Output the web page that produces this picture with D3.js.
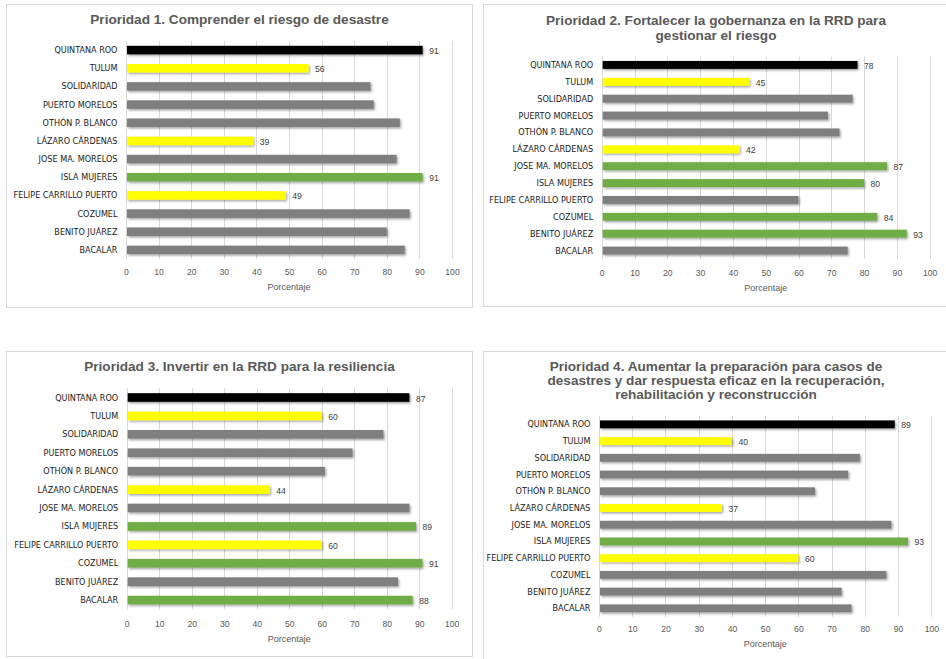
<!DOCTYPE html>
<html lang="es">
<head>
<meta charset="utf-8">
<title>Prioridades del Marco de Sendai – Quintana Roo</title>
<script src="https://cdn.jsdelivr.net/npm/d3@7"></script>
<style>
  html, body { margin: 0; padding: 0; background: #ffffff; }
  svg { display: block; }
  .titulo { font-family: "Liberation Sans", Arial, sans-serif; font-weight: bold; fill: #595959; }
  .cat { font-family: "Liberation Sans Narrow", "DejaVu Sans Condensed", "Liberation Sans", sans-serif; fill: #1a1a1a; }
  .tick-lbl { font-family: "Liberation Sans", Arial, sans-serif; fill: #595959; }
  .valor { font-family: "Liberation Sans", Arial, sans-serif; fill: #404040; }
</style>
</head>
<body>
<script>
// Municipios (orden de arriba hacia abajo)
const municipios = [
  "QUINTANA ROO", "TULUM", "SOLIDARIDAD", "PUERTO MORELOS", "OTHÓN P. BLANCO",
  "LÁZARO CÁRDENAS", "JOSE MA. MORELOS", "ISLA MUJERES", "FELIPE CARRILLO PUERTO",
  "COZUMEL", "BENITO JUÁREZ", "BACALAR"
];

// Marcas del eje de porcentaje
const marcasPorcentaje = [0, 10, 20, 30, 40, 50, 60, 70, 80, 90, 100];
const tituloEje = "Porcentaje";

// Clasificación: E = estatal, B = bajo, M = medio, A = sobre el promedio estatal
const titulo1 = ["Prioridad 1. Comprender el riesgo de desastre"];
const valores1 = [91, 56, 75, 76, 84, 39, 83, 91, 49, 87, 80, 85.5];
const nivel1   = ["E", "B", "M", "M", "M", "B", "M", "A", "B", "M", "M", "M"];

const titulo2 = ["Prioridad 2. Fortalecer la gobernanza en la RRD para", "gestionar el riesgo"];
const valores2 = [78, 45, 76.5, 69, 72.5, 42, 87, 80, 60, 84, 93, 75];
const nivel2   = ["E", "B", "M", "M", "M", "B", "A", "A", "M", "A", "A", "M"];

const titulo3 = ["Prioridad 3. Invertir en la RRD para la resiliencia"];
const valores3 = [87, 60, 79, 69.5, 61, 44, 87, 89, 60, 91, 83.5, 88];
const nivel3   = ["E", "B", "M", "M", "M", "B", "M", "A", "B", "A", "M", "A"];

const titulo4 = ["Prioridad 4. Aumentar la preparación para casos de",
                 "desastres y dar respuesta eficaz en la recuperación,",
                 "rehabilitación y reconstrucción"];
const valores4 = [89, 40, 78.5, 75, 65, 37, 88, 93, 60, 86.5, 73, 76];
const nivel4   = ["E", "B", "M", "M", "M", "B", "M", "A", "B", "M", "M", "M"];

// Colores por nivel
const colorNivel = { E: "#000000", B: "#FFFF00", M: "#7F7F7F", A: "#70AD47" };

const W = 946, H = 659;
const svg = d3.select("body").append("svg").attr("width", W).attr("height", H);

// Sombra suave de las barras
const defs = svg.append("defs");
const f = defs.append("filter").attr("id", "sombra")
  .attr("x", "-5%").attr("y", "-40%").attr("width", "115%").attr("height", "200%");
f.append("feDropShadow").attr("dx", 1.2).attr("dy", 1.4)
  .attr("stdDeviation", 1.1).attr("flood-color", "#000").attr("flood-opacity", 0.38);

// Disposición de los cuatro paneles
const paneles = [
  { titulo: titulo1, valores: valores1, nivel: nivel1,
    marco: [6.5, 4.5, 466, 303], x: [126, 452], y: [41, 259],
    tituloY: [19.5], ticksY: 272, ejeY: 287 },
  { titulo: titulo2, valores: valores2, nivel: nivel2,
    marco: [483.5, 4.5, 470, 302], x: [601.7, 929.7], y: [56.5, 259],
    tituloY: [20.7, 35.3], ticksY: 272.7, ejeY: 287.5 },
  { titulo: titulo3, valores: valores3, nivel: nivel3,
    marco: [6.5, 351.5, 466, 305], x: [126.7, 451.7], y: [388.3, 609.3],
    tituloY: [366.7], ticksY: 624, ejeY: 639.3 },
  { titulo: titulo4, valores: valores4, nivel: nivel4,
    marco: [483.5, 351.5, 470, 320], x: [599, 931.3], y: [416, 616.7],
    tituloY: [366.6, 380.5, 394.6], ticksY: 628.7, ejeY: 644 }
];

paneles.forEach(p => {
  const g = svg.append("g");

  // Marco del gráfico
  g.append("rect")
    .attr("x", p.marco[0]).attr("y", p.marco[1])
    .attr("width", p.marco[2]).attr("height", p.marco[3])
    .attr("fill", "#ffffff").attr("stroke", "#d9d9d9").attr("stroke-width", 1);

  // Título
  const cx = p.marco[0] + p.marco[2] / 2 - (p.marco[0] > 400 ? 2.5 : 0);
  g.selectAll(".titulo").data(p.titulo).join("text")
    .attr("class", "titulo")
    .attr("x", cx)
    .attr("y", (d, i) => p.tituloY[i])
    .attr("text-anchor", "middle")
    .attr("dominant-baseline", "central")
    .style("font-size", "13.6px")
    .text(d => d);

  const x = d3.scaleLinear().domain([0, 100]).range(p.x);
  const y = d3.scaleBand().domain(municipios).range(p.y)
    .paddingInner(0.53).paddingOuter(0.265);

  // Líneas de cuadrícula verticales
  g.append("g").selectAll("line").data(marcasPorcentaje).join("line")
    .attr("x1", d => Math.round(x(d)) + 0.5).attr("x2", d => Math.round(x(d)) + 0.5)
    .attr("y1", p.y[0]).attr("y2", p.y[1])
    .attr("stroke", "#d9d9d9").attr("stroke-width", 1);

  // Eje de porcentaje (solo etiquetas)
  const ejeX = d3.axisBottom(x).tickValues(marcasPorcentaje).tickSize(0).tickPadding(0);
  const gx = g.append("g").attr("transform", `translate(0,${p.ticksY})`).call(ejeX);
  gx.select(".domain").remove();
  gx.selectAll("text").attr("class", "tick-lbl")
    .attr("dy", null).attr("dominant-baseline", "central")
    .style("font-size", "8.6px").attr("font-family", null).attr("fill", null);

  g.append("text").attr("class", "tick-lbl")
    .attr("x", x(50)).attr("y", p.ejeY)
    .attr("text-anchor", "middle").attr("dominant-baseline", "central")
    .style("font-size", "9px").text(tituloEje);

  // Eje de municipios (solo etiquetas)
  const ejeY = d3.axisLeft(y).tickSize(0).tickPadding(8.5);
  const gy = g.append("g").attr("transform", `translate(${p.x[0]},0)`).call(ejeY);
  gy.select(".domain").remove();
  gy.selectAll("text").attr("class", "cat")
    .attr("dy", null).attr("dominant-baseline", "central")
    .style("font-size", "9px").attr("font-family", null).attr("fill", null);

  const datos = municipios.map((m, i) => ({ m, v: p.valores[i], n: p.nivel[i] }));

  // Barras
  g.append("g").attr("filter", "url(#sombra)")
    .selectAll("rect").data(datos).join("rect")
    .attr("x", x(0) + 1)
    .attr("y", d => y(d.m))
    .attr("width", d => x(d.v) - x(0) - 1)
    .attr("height", y.bandwidth())
    .attr("fill", d => colorNivel[d.n]);

  // Etiquetas de valor en las barras destacadas
  g.append("g").selectAll("text").data(datos.filter(d => d.n !== "M")).join("text")
    .attr("class", "valor")
    .attr("x", d => x(d.v) + 6.5)
    .attr("y", d => y(d.m) + y.bandwidth() / 2 + 1)
    .attr("dominant-baseline", "central")
    .style("font-size", "8.6px")
    .text(d => d3.format("d")(d.v));
});
</script>
</body>
</html>
